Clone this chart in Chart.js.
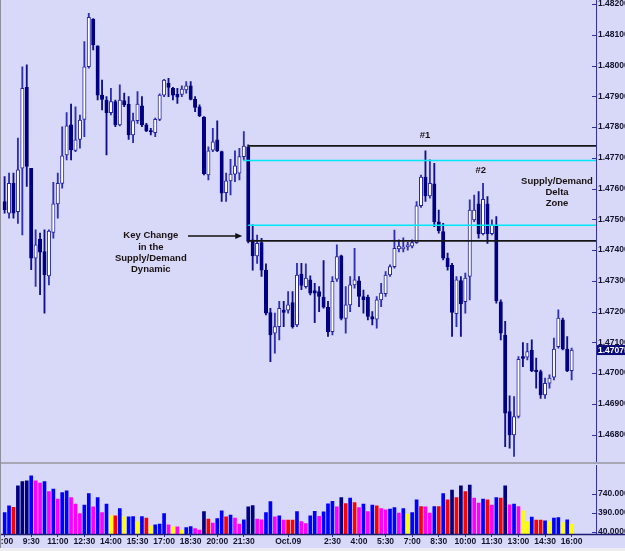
<!DOCTYPE html>
<html>
<head>
<meta charset="utf-8">
<script src="https://cdn.jsdelivr.net/npm/chart.js@4.4.1/dist/chart.umd.min.js"></script>
<style>
  html, body { margin:0; padding:0; }
  body { width:625px; height:551px; position:relative; overflow:hidden; background:#d8d8f8; }
  canvas { position:absolute; left:0; }
  #priceCanvas { top:0; }
  #volCanvas { top:464px; }
  .sep { position:absolute; left:0; top:462px; width:625px; height:2px; background:#a7a7b6; }
  .lborder { position:absolute; left:0; top:0; width:1px; height:548px; background:#8f8fa0; }
  .bstrip { position:absolute; left:0; top:548px; width:625px; height:3px; background:#ececf2; }
</style>
</head>
<body>
<canvas id="priceCanvas" width="625" height="462"></canvas>
<div class="sep"></div>
<canvas id="volCanvas" width="625" height="84"></canvas>
<div class="lborder"></div>
<div class="bstrip"></div>
<script>
// ---------- DATA (15-minute bars, 8:00 Oct 8 .. 16:00 Oct 9) ----------
const open = [
1.47558,1.47520,1.47617,1.47525,1.47666,1.47929,1.47666,1.47374,1.47436,1.47395,
1.47316,1.47457,1.47550,1.47617,1.47709,1.47807,1.47724,1.47760,1.47825,1.47996,
1.48150,1.48064,1.47904,1.47888,1.47847,1.47883,1.47807,1.47886,1.47874,1.47774,
1.47821,1.47869,1.47807,1.47787,1.47782,1.47825,1.47904,1.47942,1.47926,1.47906,
1.47906,1.47921,1.47934,1.47890,1.47866,1.47832,1.47644,1.47725,1.47758,1.47720,
1.47587,1.47625,1.47647,1.47650,1.47704,1.47736,1.47433,1.47381,1.47424,1.47335,
1.47197,1.47130,1.47151,1.47205,1.47205,1.47229,1.47157,1.47322,1.47281,1.47303,
1.47268,1.47265,1.47247,1.47214,1.47135,1.47305,1.47381,1.47178,1.47222,1.47287,
1.47300,1.47249,1.47247,1.47184,1.47175,1.47238,1.47258,1.47319,1.47346,1.47404,
1.47404,1.47410,1.47413,1.47424,1.47544,1.47637,1.47576,1.47615,1.47492,1.47460,
1.47374,1.47350,1.47193,1.47301,1.47232,1.47314,1.47498,1.47550,1.47453,1.47550,
1.47453,1.47478,1.47232,1.47124,1.46875,1.46799,1.46859,1.47054,1.47052,1.47075,
1.47010,1.47005,1.46929,1.46967,1.46987,1.47086,1.47173,1.47078,1.47008];
const high = [
1.47639,1.47650,1.47650,1.47764,1.47996,1.48002,1.47666,1.47466,1.47455,1.47466,
1.47466,1.47620,1.47650,1.47801,1.47847,1.47875,1.47866,1.47839,1.48078,1.48170,
1.48153,1.48064,1.47953,1.47899,1.47926,1.47888,1.47937,1.47910,1.47899,1.47845,
1.47915,1.47899,1.47812,1.47796,1.47829,1.47908,1.47955,1.47958,1.47929,1.47926,
1.47934,1.47948,1.47948,1.47899,1.47872,1.47834,1.47736,1.47796,1.47820,1.47722,
1.47650,1.47695,1.47723,1.47731,1.47785,1.47742,1.47482,1.47449,1.47438,1.47355,
1.47211,1.47195,1.47233,1.47233,1.47265,1.47265,1.47357,1.47357,1.47355,1.47316,
1.47292,1.47281,1.47366,1.47233,1.47314,1.47417,1.47384,1.47281,1.47314,1.47406,
1.47314,1.47270,1.47254,1.47200,1.47249,1.47292,1.47330,1.47352,1.47465,1.47433,
1.47440,1.47426,1.47433,1.47558,1.47644,1.47723,1.47693,1.47682,1.47530,1.47487,
1.47390,1.47357,1.47314,1.47314,1.47325,1.47563,1.47579,1.47590,1.47617,1.47574,
1.47498,1.47509,1.47238,1.47168,1.46926,1.46924,1.47054,1.47099,1.47097,1.47108,
1.47049,1.47010,1.46984,1.46994,1.47114,1.47206,1.47179,1.47119,1.47081];
const low = [
1.47520,1.47504,1.47504,1.47487,1.47449,1.47607,1.47336,1.47282,1.47255,1.47195,
1.47287,1.47439,1.47504,1.47601,1.47693,1.47693,1.47720,1.47731,1.47769,1.47991,
1.48051,1.47888,1.47856,1.47709,1.47839,1.47801,1.47804,1.47866,1.47760,1.47749,
1.47812,1.47801,1.47785,1.47774,1.47769,1.47821,1.47899,1.47899,1.47888,1.47877,
1.47899,1.47910,1.47888,1.47850,1.47834,1.47644,1.47628,1.47720,1.47720,1.47558,
1.47558,1.47579,1.47622,1.47628,1.47693,1.47423,1.47335,1.47357,1.47314,1.47189,
1.47037,1.47065,1.47108,1.47151,1.47195,1.47146,1.47151,1.47271,1.47276,1.47254,
1.47164,1.47200,1.47211,1.47119,1.47124,1.47298,1.47173,1.47130,1.47200,1.47276,
1.47216,1.47195,1.47173,1.47157,1.47146,1.47216,1.47249,1.47314,1.47341,1.47394,
1.47394,1.47400,1.47407,1.47422,1.47539,1.47558,1.47569,1.47476,1.47455,1.47368,
1.47335,1.47119,1.47151,1.47119,1.47195,1.47238,1.47492,1.47439,1.47449,1.47422,
1.47449,1.47227,1.47108,1.46761,1.46756,1.46729,1.46854,1.47021,1.47043,1.47005,
1.46951,1.46918,1.46918,1.46951,1.46978,1.47081,1.47075,1.47005,1.46978];
const close = [
1.47531,1.47617,1.47520,1.47661,1.47926,1.47672,1.47374,1.47417,1.47393,1.47320,
1.47462,1.47550,1.47617,1.47706,1.47804,1.47726,1.47758,1.47823,1.47996,1.48157,
1.48067,1.47904,1.47890,1.47847,1.47883,1.47807,1.47888,1.47872,1.47774,1.47821,
1.47875,1.47807,1.47787,1.47785,1.47825,1.47904,1.47953,1.47929,1.47904,1.47897,
1.47923,1.47934,1.47890,1.47864,1.47837,1.47648,1.47723,1.47752,1.47723,1.47585,
1.47625,1.47647,1.47674,1.47704,1.47738,1.47428,1.47381,1.47422,1.47335,1.47195,
1.47124,1.47151,1.47211,1.47197,1.47222,1.47151,1.47319,1.47285,1.47309,1.47260,
1.47260,1.47249,1.47214,1.47135,1.47298,1.47379,1.47178,1.47222,1.47287,1.47303,
1.47249,1.47238,1.47184,1.47175,1.47238,1.47260,1.47319,1.47346,1.47406,1.47413,
1.47410,1.47417,1.47424,1.47544,1.47637,1.47576,1.47617,1.47492,1.47463,1.47374,
1.47346,1.47197,1.47303,1.47225,1.47309,1.47530,1.47530,1.47453,1.47565,1.47453,
1.47482,1.47235,1.47130,1.46870,1.46799,1.46859,1.47045,1.47048,1.47070,1.47007,
1.47005,1.46929,1.46967,1.46984,1.47078,1.47179,1.47078,1.47007,1.47075];
const volume = [
396,519,491,887,967,979,1072,979,937,967,
782,826,642,764,795,672,550,377,532,745,
500,672,396,550,335,335,469,316,316,322,
224,322,292,151,169,182,377,169,132,132,
71,119,138,101,71,414,274,200,285,427,
316,348,292,182,261,500,524,274,261,396,
598,316,335,256,256,256,414,230,193,335,
418,325,408,556,602,500,672,561,661,580,
488,550,414,532,519,469,445,458,488,384,
469,366,396,629,506,500,384,506,506,745,
629,808,672,887,782,900,661,569,642,629,
532,672,661,887,537,550,506,427,230,311,
256,256,243,230,292,303,211,261,182];
// B blue, N navy, M magenta, R red, Y yellow
const volumeColorCode =
  "BBRNNNBMMB" + "MBMBBMMMBB" + "MBMBYRBYBB" + "YBRYBBBMYM" + "YBBMMNRMBB" +
  "RBMMBNNMMB" + "BMBMRRBMMB" + "BMBBBMNRBR" + "MBMBRMMBBM" + "BYBBRMMBRB" +
  "RNRNRNMMBR" + "MBRNMBMYYB" + "RRBYBBYBY";

const priceTicks = [1.468,1.469,1.470,1.471,1.472,1.473,1.474,1.475,1.476,1.477,1.478,1.479,1.480,1.481,1.482];
const volTicks = [40, 390, 740];
const volTickLabels = ['40.0000', '390.000', '740.000'];
const tickIndex = [0,6,12,18,24,30,36,42,48,54,64,74,80,86,92,98,104,110,116,122,128];
const tickText = ['8:00','9:30','11:00','12:30','14:00','15:30','17:00','18:30','20:00','21:30','Oct.09',
                  '2:30','4:00','5:30','7:00','8:30','10:00','11:30','13:00','14:30','16:00'];
const slotCount = 134;           // bar slots incl. empty right margin
const priceMin = 1.46711, priceMax = 1.48213;
const volMin = 0, volMax = 1271;

// supply / demand zone levels
const zoneTop = 1.47739, zoneBottom = 1.47430;
const deltaTop = 1.47691, deltaBottom = 1.47481;
const arrowLevel = 1.47446;

// annotation texts anchored in data coordinates (bar index, price)
const notes = [
  { text: 'Key Change',    idx: 33.0,  price: 1.474465 },
  { text: 'in the',        idx: 33.0,  price: 1.474098 },
  { text: 'Supply/Demand', idx: 33.0,  price: 1.473730 },
  { text: 'Dynamic',       idx: 33.0,  price: 1.473372 },
  { text: '#1',            idx: 94.9,  price: 1.477740 },
  { text: '#2',            idx: 107.5, price: 1.476600 },
  { text: 'Supply/Demand', idx: 124.7, price: 1.476244 },
  { text: 'Delta',         idx: 124.7, price: 1.475886 },
  { text: 'Zone',          idx: 124.7, price: 1.475529 }
];

// ---------- RENDERING ----------
Chart.defaults.font.family = "'Liberation Sans', Arial, sans-serif";
const AXIS = '#3030b0';
const TXT = '#14142e';
const LEFT_PAD = 2.4;
const AXIS_W = 29;
const colorMap = { B: '#0000ff', N: '#000080', M: '#ff00ff', R: '#ff0000', Y: '#ffff00' };

const cats = [];
for (let k = 0; k < slotCount; k++) {
  const m = 8 * 60 + 15 * k;
  cats.push(String(Math.floor(m / 60) % 24) + ':' + String(m % 60).padStart(2, '0'));
}
const bodies = open.map((o, i) => [o, close[i]]);
const wicks = low.map((l, i) => [l, high[i]]);
const isUp = open.map((o, i) => close[i] >= o);
const volColors = volume.map((v, i) => colorMap[volumeColorCode[i]]);

function fixY(s) { s.width = AXIS_W; s.paddingTop = 0; s.paddingBottom = 0; }
function fixX(h) { return s => { s.height = h; s.paddingLeft = 0; s.paddingRight = 0; }; }

const priceDecor = {
  id: 'priceDecor',
  afterDatasetsDraw(chart) {
    const { ctx, chartArea: ca, scales: { x, y } } = chart;
    ctx.save();
    const hline = (price, fromIdx, color, w) => {
      const py = y.getPixelForValue(price);
      ctx.strokeStyle = color; ctx.lineWidth = w;
      ctx.beginPath(); ctx.moveTo(x.getPixelForValue(fromIdx), py); ctx.lineTo(ca.right, py); ctx.stroke();
    };
    hline(deltaTop, 53.8, '#00e8f8', 1.5);
    hline(deltaBottom, 55.0, '#00e8f8', 1.5);
    hline(zoneTop, 54.9, '#151515', 1.7);
    hline(zoneBottom, 54.9, '#151515', 1.7);

    // arrow
    const ay = y.getPixelForValue(arrowLevel);
    const ax0 = x.getPixelForValue(41.4), ax1 = x.getPixelForValue(53.65);
    ctx.strokeStyle = '#111'; ctx.lineWidth = 1.5;
    ctx.beginPath(); ctx.moveTo(ax0, ay); ctx.lineTo(ax1 - 5, ay); ctx.stroke();
    ctx.fillStyle = '#111';
    ctx.beginPath(); ctx.moveTo(ax1, ay); ctx.lineTo(ax1 - 7, ay - 3); ctx.lineTo(ax1 - 7, ay + 3); ctx.closePath(); ctx.fill();

    // texts
    ctx.fillStyle = '#1a1212';
    ctx.font = "bold 9.5px 'Liberation Sans', Arial, sans-serif";
    ctx.textAlign = 'center'; ctx.textBaseline = 'middle';
    notes.forEach(nt => ctx.fillText(nt.text, x.getPixelForValue(nt.idx), y.getPixelForValue(nt.price)));

    // inner tick marks on price axis
    ctx.strokeStyle = AXIS; ctx.lineWidth = 1;
    y.ticks.forEach(t => {
      const py = Math.round(y.getPixelForValue(t.value)) + 0.5;
      ctx.beginPath(); ctx.moveTo(ca.right - 4, py); ctx.lineTo(ca.right, py); ctx.stroke();
    });

    // current price tag
    const cp = close[close.length - 1];
    const cy = y.getPixelForValue(cp);
    ctx.fillStyle = '#0c0c78';
    ctx.fillRect(ca.right + 1, cy - 5, 30, 10);
    ctx.fillStyle = '#ffffff';
    ctx.font = "bold 8.5px 'Liberation Sans', Arial, sans-serif";
    ctx.textAlign = 'left';
    ctx.fillText(cp.toFixed(5), ca.right + 2, cy + 0.5);
    ctx.restore();
  }
};

const volDecor = {
  id: 'volDecor',
  afterDatasetsDraw(chart) {
    const { ctx, chartArea: ca, scales: { y } } = chart;
    ctx.save();
    ctx.strokeStyle = AXIS; ctx.lineWidth = 1;
    y.ticks.forEach(t => {
      const py = Math.round(y.getPixelForValue(t.value)) + 0.5;
      ctx.beginPath(); ctx.moveTo(ca.right - 4, py); ctx.lineTo(ca.right, py); ctx.stroke();
    });
    ctx.strokeStyle = '#1c1c70'; ctx.lineWidth = 1.3;
    ctx.beginPath(); ctx.moveTo(0, ca.bottom + 0.5); ctx.lineTo(chart.width, ca.bottom + 0.5); ctx.stroke();
    ctx.restore();
  }
};

new Chart(document.getElementById('priceCanvas'), {
  type: 'bar',
  data: {
    labels: cats,
    datasets: [
      { data: bodies, order: 0, grouped: false, barThickness: 3.4, minBarLength: 1,
        backgroundColor: isUp.map(u => u ? '#ffffff' : '#000080'),
        borderColor: isUp.map(u => u ? '#2626a0' : '#000080'),
        borderWidth: 1, borderSkipped: false },
      { data: wicks, order: 1, grouped: false, barThickness: 1.2,
        backgroundColor: isUp.map(u => u ? '#3030b4' : '#10108a'), borderWidth: 0 }
    ]
  },
  options: {
    responsive: false, animation: false, devicePixelRatio: 1,
    layout: { padding: { left: LEFT_PAD, right: 0, top: 0, bottom: 0 } },
    plugins: { legend: { display: false }, tooltip: { enabled: false } },
    scales: {
      x: { display: false, offset: true },
      y: {
        position: 'right', min: priceMin, max: priceMax, bounds: 'data',
        afterBuildTicks: s => { s.ticks = priceTicks.map(v => ({ value: v })); },
        afterFit: fixY,
        grid: { display: false, drawTicks: false },
        border: { display: true, color: AXIS, width: 1 },
        ticks: { padding: 2, color: TXT, autoSkip: false, font: { size: 8.5, weight: 'bold' },
                 callback: v => v.toFixed(5) }
      }
    }
  },
  plugins: [priceDecor]
});

new Chart(document.getElementById('volCanvas'), {
  type: 'bar',
  data: {
    labels: cats,
    datasets: [{ data: volume, barThickness: 3, backgroundColor: volColors, borderWidth: 0 }]
  },
  options: {
    responsive: false, animation: false, devicePixelRatio: 1,
    layout: { padding: { left: LEFT_PAD, right: 0, top: 1, bottom: 0 } },
    plugins: { legend: { display: false }, tooltip: { enabled: false } },
    scales: {
      x: {
        offset: true,
        afterBuildTicks: s => { s.ticks = tickIndex.map(v => ({ value: v })); },
        afterFit: fixX(14),
        grid: { display: true, drawOnChartArea: false, drawTicks: true, tickLength: 3, color: AXIS, offset: false },
        border: { display: false },
        ticks: { autoSkip: false, maxRotation: 0, minRotation: 0, padding: 0, color: TXT,
                 font: { size: 8.5, weight: 'bold' },
                 callback: v => tickText[tickIndex.indexOf(v)] }
      },
      y: {
        position: 'right', min: volMin, max: volMax, bounds: 'data',
        afterBuildTicks: s => { s.ticks = volTicks.map(v => ({ value: v })); },
        afterFit: fixY,
        grid: { display: false, drawTicks: false },
        border: { display: true, color: AXIS, width: 1 },
        ticks: { padding: 2, color: TXT, autoSkip: false, font: { size: 8.5, weight: 'bold' },
                 callback: v => volTickLabels[volTicks.indexOf(v)] }
      }
    }
  },
  plugins: [volDecor]
});
</script>
</body>
</html>
